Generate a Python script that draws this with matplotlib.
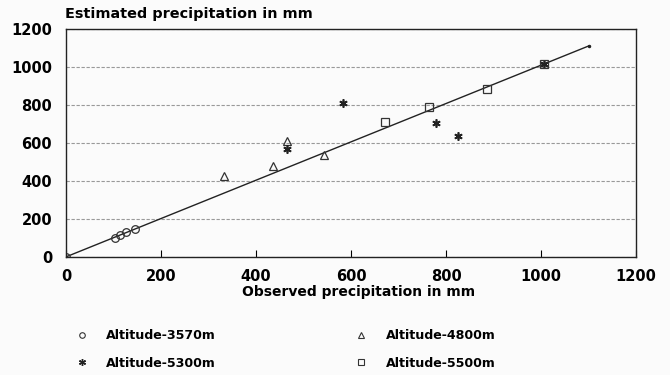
import matplotlib.pyplot as plt
from matplotlib.lines import Line2D

plt.rcParams['font.family'] = ['DejaVu Sans']
plt.rcParams['font.weight'] = 'bold'

# observed (x) vs estimated (y) precipitation, mm
obs_3570 = [0, 104, 114, 126, 145]
est_3570 = [0, 101, 116, 130, 149]
obs_4800 = [333, 436, 465, 543]
est_4800 = [426, 479, 609, 537]
obs_5300 = [465, 583, 779, 824, 1006]
est_5300 = [568, 809, 707, 637, 1016]
obs_5500 = [672, 765, 887, 1006]
est_5500 = [709, 789, 883, 1016]
fit_x = [0, 1100]
fit_y = [0, 1110]

fig = plt.figure(figsize=(6.7, 3.75), dpi=100)
fig.patch.set_facecolor('#fbfbfb')
ax = fig.add_axes([0.0985, 0.315, 0.851, 0.608])
ax.set_facecolor('#fbfbfb')

ax.plot(fit_x, fit_y, color='#222222', lw=1.0, marker='.', markevery=[1], ms=3)
ax.plot(obs_3570, est_3570, ls='none', marker='o', ms=5.5, mfc='none', mec='#333333', mew=0.9)
ax.plot(obs_4800, est_4800, ls='none', marker='^', ms=6, mfc='none', mec='#333333', mew=0.9)
ax.plot(obs_5300, est_5300, ls='none', marker=(6, 2, 0), ms=6, mec='#222222', mew=1.2)
ax.plot(obs_5500, est_5500, ls='none', marker='s', ms=5.5, mfc='none', mec='#333333', mew=0.9)

ax.set_xlim(0, 1200)
ax.set_ylim(0, 1200)
ax.set_xticks(range(0, 1201, 200))
ax.set_yticks(range(0, 1201, 200))
ax.yaxis.grid(True, ls=(0, (3, 1.5)), color='#999999', lw=0.8)
ax.tick_params(axis='x', direction='in', length=5, width=0.8, labelsize=10.5, pad=9)
ax.tick_params(axis='y', length=0, labelsize=10.5, pad=10)
for lab in ax.get_xticklabels() + ax.get_yticklabels():
    lab.set_fontweight('bold')
for s in ax.spines.values():
    s.set_linewidth(1.0)
    s.set_color('#222222')

ax.set_xlabel('Observed precipitation in mm', fontsize=10, fontweight='bold')
ax.xaxis.set_label_coords(0.513, -0.125)
ax.xaxis.label.set_va('top')
fig.text(0.097, 0.944, 'Estimated precipitation in mm', fontsize=10.4, fontweight='bold', ha='left', va='bottom')

handles = [
    Line2D([], [], ls='none', marker='o', ms=4, mfc='none', mec='#333333', mew=0.8),
    Line2D([], [], ls='none', marker=(6, 2, 0), ms=5, mec='#222222', mew=1.0),
    Line2D([], [], ls='none', marker='^', ms=4, mfc='none', mec='#333333', mew=0.8),
    Line2D([], [], ls='none', marker='s', ms=4, mfc='none', mec='#333333', mew=0.8),
]
labels = ['Altitude-3570m', 'Altitude-5300m', 'Altitude-4800m', 'Altitude-5500m']
fig.legend(handles, labels, ncol=2, loc='upper left', bbox_to_anchor=(0.1135, 0.122),
           frameon=False, prop={'size': 9.1, 'weight': 'bold'}, handletextpad=1.4,
           columnspacing=11.0, labelspacing=1.15, handlelength=1.0, borderaxespad=0,
           borderpad=0)

fig.savefig('out.png', dpi=100, facecolor=fig.get_facecolor())
